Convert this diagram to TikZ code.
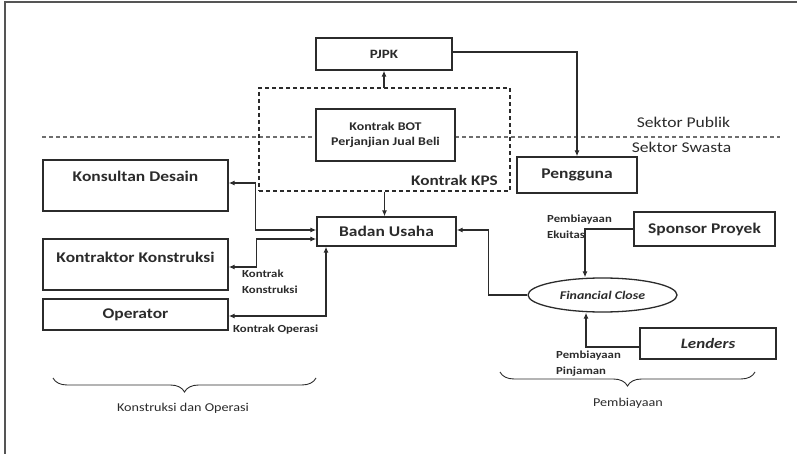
\documentclass[tikz,border=0pt]{standalone}
\usepackage{fontspec}
\setmainfont{Carlito}[FakeStretch=1.18]
\usetikzlibrary{arrows.meta,shapes.geometric,decorations.pathreplacing}
\definecolor{ink}{HTML}{2B2B2B}
\definecolor{frame}{HTML}{555555}
\definecolor{divider}{HTML}{6E6E6E}
\begin{document}
\begin{tikzpicture}[x=1pt,y=-1pt,
  box/.style={draw=ink,line width=1.3pt,fill=white,inner sep=0pt,text=ink,
    font=\bfseries\fontsize{14.8}{18}\selectfont},
  smallbox/.style={box,font=\bfseries\fontsize{11.8}{15}\selectfont},
  conn/.style={draw=ink,line width=1.2pt},
  tip/.style={-{Latex[length=6pt,width=5pt]}},
  twotip/.style={{Latex[length=6pt,width=5pt]}-{Latex[length=6pt,width=5pt]}},
  lbl/.style={inner sep=0pt,text=ink,font=\bfseries\fontsize{10.8}{16}\selectfont,align=left},
  sector/.style={inner sep=0pt,text=ink,font=\fontsize{14.9}{18}\selectfont},
  titletext/.style={inner sep=0pt,text=ink,font=\bfseries\fontsize{14.6}{18}\selectfont},
  groupname/.style={inner sep=0pt,text=ink,font=\fontsize{12}{14}\selectfont},
  curly/.style={draw=ink,line width=0.9pt,decorate,
    decoration={brace,mirror,amplitude=14pt}}
]
\useasboundingbox (0,0) rectangle (797,454);

% frame edges
\draw[frame,line width=2pt] (4.5,454) -- (4.5,2.5) -- (797,2.5);

% public / private divider
\draw[divider,line width=1.1pt,dash pattern=on 4pt off 3pt] (42,137) -- (780,137);
\node[sector] (publik) at (683.5,122) {Sektor Publik};
\node[sector] (swasta) at (681.5,147) {Sektor Swasta};

% PPP contract frame
\node[draw=ink,line width=1.1pt,dash pattern=on 4pt off 3pt,minimum width=251pt,
  minimum height=103pt,inner sep=0pt] (kps) at (384.5,139.5) {};
\node[titletext] (kpslabel) at (454.5,180) {Kontrak KPS};
\node[smallbox,minimum width=139pt,minimum height=52pt,align=center] (bot) at (385.5,135)
  {Kontrak BOT\\Perjanjian Jual Beli};

% boxes
\node[smallbox,minimum width=136pt,minimum height=32pt,
  font=\bfseries\fontsize{12.7}{15}\selectfont] (pjpk) at (384,54) {PJPK};
\node[box,minimum width=120pt,minimum height=36pt] (pengguna) at (577,175) {Pengguna};
\node[box,minimum width=139pt,minimum height=29pt] (badan) at (386.5,231.5) {Badan Usaha};
\node[box,minimum width=185pt,minimum height=51pt,text height=10pt,text depth=17pt]
  (konsultan) at (135.5,185.5) {Konsultan Desain};
\node[box,minimum width=185pt,minimum height=51pt,text height=10pt,text depth=15pt]
  (kontraktor) at (135.5,264.5) {Kontraktor Konstruksi};
\node[box,minimum width=185pt,minimum height=31pt] (operator) at (135.5,314.5) {Operator};
\node[box,minimum width=141pt,minimum height=34pt] (sponsor) at (704.5,229) {Sponsor Proyek};
\node[box,minimum width=136pt,minimum height=31pt,
  font=\bfseries\itshape\fontsize{14.4}{18}\selectfont] (lenders) at (708,343.5) {Lenders};
\node[ellipse,draw=ink,line width=1.3pt,fill=white,inner sep=0pt,minimum width=149pt,
  minimum height=34pt,text=ink,font=\bfseries\itshape\fontsize{11.8}{14}\selectfont]
  (fc) at (602.5,295) {Financial Close};

% connectors
\draw[conn,tip] (kps.north) -- (kps.north -| pjpk.south) -- (pjpk.south);
\draw[conn,tip] (kps.south) -- (kps.south |- badan.north);
\draw[conn,tip] ([yshift=2pt]pjpk.east) -| (pengguna.north);
\draw[conn,twotip] ([yshift=2.5pt]konsultan.east) -- ++(27,0) |- ([yshift=1.5pt]badan.west);
\draw[conn,twotip] ([yshift=-2.5pt]kontraktor.east) -- ++(28,0) |- ([yshift=-7.5pt]badan.west);
\draw[conn,twotip] ([yshift=-1.5pt]operator.east) -| ([xshift=-60.5pt]badan.south);
\draw[conn,tip] (fc.west) -- ++(-39,0) |- ([yshift=1.5pt]badan.east);
\draw[conn,tip] (sponsor.west) -| ([xshift=-17.5pt]fc.north);
\draw[conn,tip] ([yshift=-3.5pt]lenders.west) -| ([xshift=-16.5pt]fc.south);

% connector labels (base anchor sits on the last line)
\node[lbl,anchor=base west] (kk) at (242,293) {Kontrak\\Konstruksi};
\node[lbl,anchor=base west] (ko) at (233,332) {Kontrak Operasi};
\node[lbl,anchor=base west] (pe) at (547,239) {Pembiayaan\\Ekuitas};
\node[lbl,anchor=base west] (pp) at (556,374) {Pembiayaan\\Pinjaman};

% group braces
\draw[curly] (53,378) -- (316,378);
\node[groupname] (kdo) at (183,408) {Konstruksi dan Operasi};
\draw[curly] (500,372) -- (755,372);
\node[groupname] (pb) at (628,403) {Pembiayaan};
\end{tikzpicture}
\end{document}
